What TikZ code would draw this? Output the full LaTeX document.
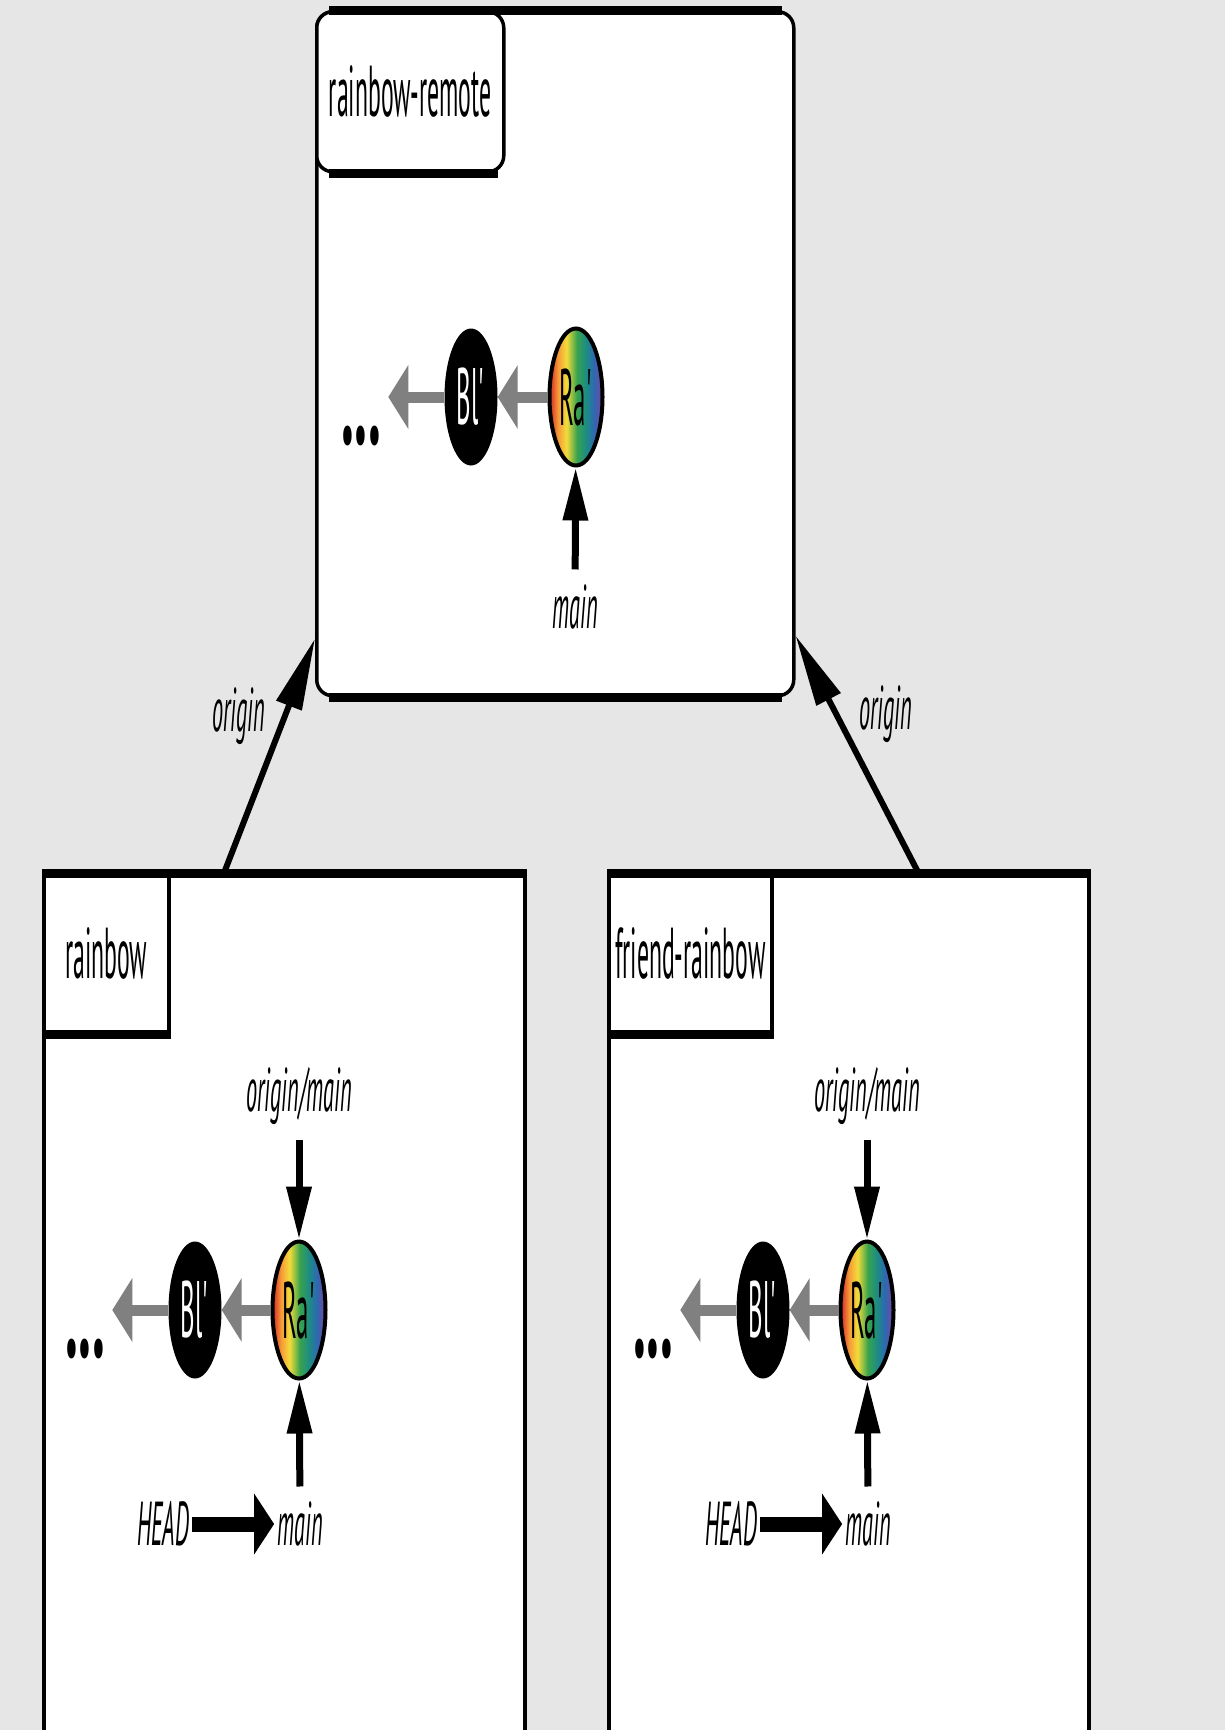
\documentclass[tikz,border=0pt]{standalone}
\usepackage{fontspec}
\setmainfont{PT Sans}
\newfontfamily\narrowsans[FakeStretch=0.36]{PT Sans}
\newfontfamily\tabsans[FakeStretch=0.33]{PT Sans}
\newfontfamily\commitsans[FakeStretch=0.31]{PT Sans}
\newfontfamily\dotsans[FakeStretch=0.40]{PT Sans}
\usetikzlibrary{shapes.geometric,positioning,calc,arrows.meta}

\definecolor{bggray}{HTML}{E6E6E6}
\definecolor{parentgray}{HTML}{808080}
\definecolor{rbred}{HTML}{E0402A}
\definecolor{rborange}{HTML}{F59A38}
\definecolor{rbyellow}{HTML}{F4DC3A}
\definecolor{rbgreen}{HTML}{36A24E}
\definecolor{rbteal}{HTML}{1C8A86}
\definecolor{rbblue}{HTML}{2E68B2}
\definecolor{rbpurple}{HTML}{7448A0}
\pgfdeclarehorizontalshading{rainbow}{100bp}{color(0bp)=(rbred); color(27bp)=(rbred); color(33bp)=(rborange); color(41bp)=(rbyellow); color(51bp)=(rbgreen); color(60bp)=(rbteal); color(67bp)=(rbblue); color(74bp)=(rbpurple); color(100bp)=(rbpurple)}
\newcommand{\clabel}[1]{\makebox[0pt]{\hspace{11pt}#1\textquotesingle}}

\begin{document}
\begin{tikzpicture}[
        x=1pt, y=-1pt,
        every node/.style={inner sep=3pt},
        repo/.style={rectangle, draw=black, fill=white, line width=3.5pt, anchor=north west, inner sep=0pt},
        tab/.style={repo, font=\tabsans\fontsize{72pt}{78pt}\selectfont},
        hedge/.style={draw=black, line width=9pt},
        commit/.style={ellipse, minimum width=53pt, minimum height=137pt, inner sep=0pt, font=\commitsans\fontsize{80pt}{84pt}\selectfont},
        blcommit/.style={commit, fill=black, text=white},
        racommit/.style={commit, draw=black, line width=4pt, shade, shading=rainbow},
        ref/.style={font=\narrowsans\itshape\fontsize{62pt}{68pt}\selectfont},
        dotsnode/.style={font=\dotsans\bfseries\fontsize{130pt}{130pt}\selectfont},
        parent/.style={draw=parentgray, line width=11pt, -{Triangle[length=20pt,width=63pt]}},
        pointer/.style={draw=black, line width=7pt, shorten <=12pt, -{Triangle[length=53pt,width=24pt]}},
        headarrow/.style={draw=black, line width=15pt, -{Triangle[length=20pt,width=60pt]}},
        remotearrow/.style={draw=black, line width=6pt, -{Triangle[length=72pt,width=26pt]}}
        ]

        \useasboundingbox (0,0) rectangle (1225,1730);
        \clip (0,0) rectangle (1225,1730);
        \fill[bggray] (0,0) rectangle (1225,1730);

        % the three repositories
        \node[repo, rounded corners=16pt, minimum width=477pt, minimum height=684pt] (remote) at (315,10) {};
        \node[repo, minimum width=481pt, minimum height=900pt] (rainbow) at (42,873) {};
        \node[repo, minimum width=480pt, minimum height=900pt] (friend) at (607,873) {};

        \node[tab, rounded corners=16pt, minimum width=187pt, minimum height=160pt] (remotetab) at (315,10) {rainbow-remote};
        \node[tab, minimum width=125pt, minimum height=158pt] (rainbowtab) at (42,873) {rainbow};
        \node[tab, minimum width=163pt, minimum height=158pt] (friendtab) at (607,873) {friend-rainbow};

        \draw[hedge] ([xshift=14pt]remote.north west) -- ([xshift=-14pt]remote.north east);
        \draw[hedge] ([xshift=14pt]remote.south west) -- ([xshift=-14pt]remote.south east);
        \draw[hedge] ([xshift=14pt]remotetab.south west) -- ([xshift=-8pt]remotetab.south east);
        \draw[hedge] (rainbow.north west) -- (rainbow.north east);
        \draw[hedge] (rainbowtab.south west) -- (rainbowtab.south east);
        \draw[hedge] (friend.north west) -- (friend.north east);
        \draw[hedge] (friendtab.south west) -- (friendtab.south east);

        % rainbow-remote
        \node[blcommit] (bl1) at (471,397) {\clabel{Bl}};
        \node[racommit] (ra1) at (576,397) {\clabel{Ra}};
        \node[dotsnode] (dots1) at (361,436) {...};
        \node[ref] (main1) at (575,607) {main};
        \coordinate[left=56pt of bl1.west] (tail1);
        \draw[parent] (ra1) -- (bl1);
        \draw[parent] (bl1) -- (tail1);
        \draw[pointer] (main1) -- (ra1);

        % rainbow
        \node[blcommit] (bl2) at (195,1310) {\clabel{Bl}};
        \node[racommit] (ra2) at (299,1310) {\clabel{Ra}};
        \node[dotsnode] (dots2) at (85,1349) {...};
        \node[ref] (orig2) at (299,1096) {origin/main};
        \node[ref] (main2) at (300,1524) {main};
        \node[ref] (head2) at (163,1524) {HEAD};
        \coordinate[left=56pt of bl2.west] (tail2);
        \draw[parent] (ra2) -- (bl2);
        \draw[parent] (bl2) -- (tail2);
        \draw[pointer] (orig2) -- (ra2);
        \draw[pointer] (main2) -- (ra2);
        \draw[headarrow] (head2) -- (main2);

        % friend-rainbow
        \node[blcommit] (bl3) at (763,1310) {\clabel{Bl}};
        \node[racommit] (ra3) at (867,1310) {\clabel{Ra}};
        \node[dotsnode] (dots3) at (653,1349) {...};
        \node[ref] (orig3) at (867,1096) {origin/main};
        \node[ref] (main3) at (868,1524) {main};
        \node[ref] (head3) at (731,1524) {HEAD};
        \coordinate[left=56pt of bl3.west] (tail3);
        \draw[parent] (ra3) -- (bl3);
        \draw[parent] (bl3) -- (tail3);
        \draw[pointer] (orig3) -- (ra3);
        \draw[pointer] (main3) -- (ra3);
        \draw[headarrow] (head3) -- (main3);

        % remotes
        \draw[remotearrow] ([xshift=182pt]rainbow.north west) -- node[ref, pos=0.67, left=14pt] {origin} ([yshift=59pt]remote.south west);
        \draw[remotearrow] ([xshift=-172pt]friend.north east) -- node[ref, pos=0.67, right=17pt] {origin} ([yshift=62pt]remote.south east);

    \end{tikzpicture}
\end{document}
